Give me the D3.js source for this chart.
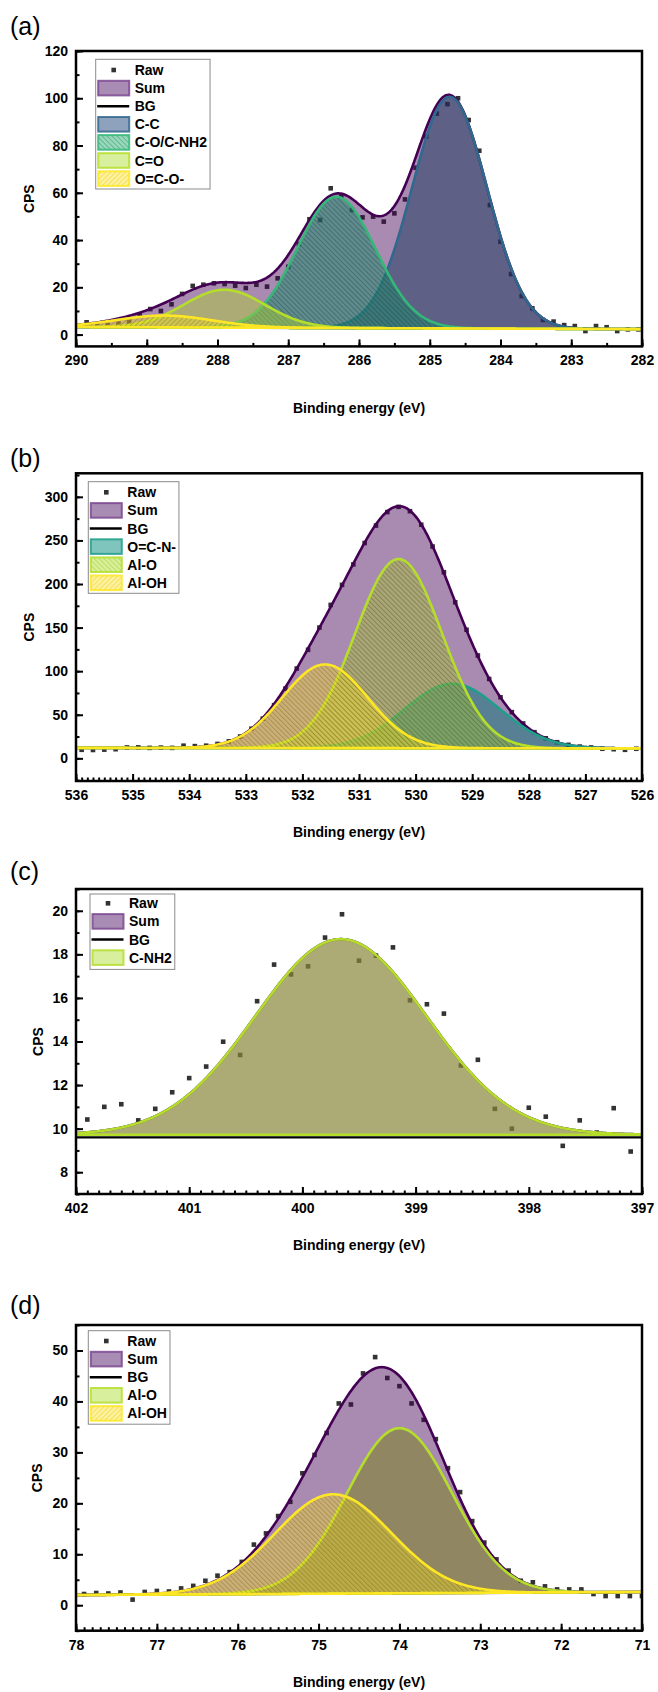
<!DOCTYPE html>
<html><head><meta charset="utf-8">
<script src="https://cdn.jsdelivr.net/npm/d3@7"></script>
<style>
body{margin:0;background:#fff;}
svg text{font-family:"Liberation Sans",Arial,Helvetica,sans-serif;}
</style></head><body>
<svg id="chart" width="658" height="1692"></svg>
<script>
// ================= DATA =================
// Panel (a) C 1s
const aRawX = [289.85,289.70,289.55,289.40,289.25,289.10,288.95,288.80,288.65,288.50,288.35,288.20,288.05,287.90,287.75,287.60,287.45,287.30,287.15,287.00,286.85,286.70,286.55,286.40,286.25,286.10,285.95,285.80,285.65,285.50,285.35,285.20,285.05,284.90,284.75,284.60,284.45,284.30,284.15,284.00,283.85,283.70,283.55,283.40,283.25,283.10,282.95,282.80,282.65,282.50,282.35,282.20,282.05];
const aRawY = [5.2,3.8,4.0,4.6,5.5,8.5,10.8,10.0,12.8,17.2,20.6,21.1,21.7,21.4,20.7,19.7,21.1,20.3,23.8,28.7,38.3,48.8,48.5,61.9,58.5,52.7,49.6,49.9,47.8,51.3,57.2,70.6,83.8,93.5,97.5,100.0,90.8,77.8,54.8,39.3,25.6,16.3,11.1,6.2,5.5,4.0,3.6,1.5,3.6,3.1,1.5,2.2,2.2];
const aPeakNames = ["C-C","C-O/C-NH2","C=O","O=C-O-"];
const aPeakCenters = [284.72,286.32,287.90,288.75];
const aPeakHeights = [98,55.5,16,5];
const aPeakFWHM = [1.25,1.30,1.35,1.60];
const aBackground = [3.2,2.3];
const aXTicks = [290,289,288,287,286,285,284,283,282];
const aYTicks = [0,20,40,60,80,100,120];

// Panel (b) O 1s
const bRawX = [535.9,535.7,535.5,535.3,535.1,534.9,534.7,534.5,534.3,534.1,533.9,533.7,533.5,533.3,533.1,532.9,532.7,532.5,532.3,532.1,531.9,531.7,531.5,531.3,531.1,530.9,530.7,530.5,530.3,530.1,529.9,529.7,529.5,529.3,529.1,528.9,528.7,528.5,528.3,528.1,527.9,527.7,527.5,527.3,527.1,526.9,526.7,526.5,526.3,526.1];
const bRawY = [9.8,9.6,10.0,10.5,12.5,12.6,12.0,12.3,12.0,14.5,14.0,14.5,16.5,19.5,25.0,34.0,45.5,61.0,80.0,103.0,124.5,150.0,176.0,199.0,222.5,247.0,267.0,282.5,288.5,283.5,268.0,243.0,213.5,179.0,147.5,118.0,91.0,70.0,53.0,40.0,30.0,23.0,18.5,15.5,13.5,12.5,11.0,10.5,9.8,11.0];
const bPeakNames = ["O=C-N-","Al-O","Al-OH"];
const bPeakCenters = [529.35,530.30,531.60];
const bPeakHeights = [74,217,96];
const bPeakFWHM = [1.98,1.81,1.77];
const bBackground = [12.0,11.4];
const bXTicks = [536,535,534,533,532,531,530,529,528,527,526];
const bYTicks = [0,50,100,150,200,250,300];

// Panel (c) N 1s
const cRawX = [401.90,401.75,401.60,401.45,401.30,401.15,401.00,400.85,400.70,400.55,400.40,400.25,400.10,399.95,399.80,399.65,399.50,399.35,399.20,399.05,398.90,398.75,398.60,398.45,398.30,398.15,398.00,397.85,397.70,397.55,397.40,397.25,397.10];
const cRawY = [10.42,11.00,11.12,10.38,10.91,11.67,12.32,12.85,13.99,13.38,15.85,17.53,17.08,17.45,18.77,19.84,17.71,17.94,18.32,15.89,15.71,15.28,12.90,13.16,10.91,10.00,10.96,10.55,9.21,10.38,9.82,10.94,8.95];
const cPeakNames = ["C-NH2"];
const cPeakCenters = [399.66];
const cPeakHeights = [8.98];
const cPeakFWHM = [1.78];
const cBackground = [9.72,9.72];
const cBGLine = [9.60,9.60];
const cXTicks = [402,401,400,399,398,397];
const cYTicks = [8,10,12,14,16,18,20];

// Panel (d) Al 2p
const dRawX = [77.90,77.75,77.60,77.45,77.30,77.15,77.00,76.85,76.70,76.55,76.40,76.25,76.10,75.95,75.80,75.65,75.50,75.35,75.20,75.05,74.90,74.75,74.60,74.45,74.30,74.15,74.00,73.85,73.70,73.55,73.40,73.25,73.10,72.95,72.80,72.65,72.50,72.35,72.20,72.05,71.90,71.75,71.60,71.45,71.30,71.15,71.00];
const dRawY = [2.2,2.4,2.3,2.5,1.1,2.6,2.8,2.7,3.3,3.8,4.8,5.8,6.5,8.5,11.9,14.1,17.5,20.3,25.9,29.5,33.8,39.6,39.4,45.5,48.7,44.6,43.0,39.6,36.4,32.6,26.9,22.2,16.5,12.3,9.0,6.8,4.8,4.5,3.7,3.1,3.1,3.1,2.2,1.8,1.8,1.8,1.8];
const dPeakNames = ["Al-O","Al-OH"];
const dPeakCenters = [74.00,74.82];
const dPeakHeights = [32.4,19.5];
const dPeakFWHM = [1.53,1.70];
const dBackground = [2.0,2.6];
const dXTicks = [78,77,76,75,74,73,72,71];
const dYTicks = [0,10,20,30,40,50];

// ================= STYLES =================
const SUM_LINE = "#440154", SUM_FILL = "rgba(68,1,84,0.46)";
const compStyle = {
  "C-C":       {line:"#31688e", fill:"rgba(28,60,95,0.53)",  sw:"#8ea2bd"},
  "C-O/C-NH2": {line:"#35b779", fill:"url(#hB_green)",       sw:"url(#hB_greenL)"},
  "C=O":       {line:"#b5de2b", fill:"rgba(175,210,45,0.45)", sw:"#d8ef9e"},
  "O=C-O-":    {line:"#fde725", fill:"url(#hF_yellow)",      sw:"url(#hF_yellowL)"},
  "O=C-N-":    {line:"#1f9e89", fill:"rgba(20,120,125,0.55)", sw:"#7fc5bd"},
  "Al-O_b":    {line:"#b5de2b", fill:"url(#hB_lime)",        sw:"url(#hB_limeL)"},
  "Al-OH_b":   {line:"#fde725", fill:"url(#hB_yellow)",      sw:"url(#hF_yellowL)"},
  "C-NH2":     {line:"#b5de2b", fill:"rgba(175,210,45,0.45)", sw:"#d8ef9e"},
  "Al-O_d":    {line:"#b5de2b", fill:"rgba(120,130,20,0.50)", sw:"#d8ef9e"},
  "Al-OH_d":   {line:"#fde725", fill:"url(#hB_yellow)",      sw:"url(#hF_yellowL)"}
};

const panels = [
  {label:"(a)", rawX:aRawX, rawY:aRawY, names:aPeakNames, styleKeys:["C-C","C-O/C-NH2","C=O","O=C-O-"],
   centers:aPeakCenters, heights:aPeakHeights, fwhm:aPeakFWHM, bg:aBackground, bgLine:aBackground,
   xDomain:[290,282], yDomain:[-5,120], xTicks:aXTicks, yTicks:aYTicks, xMinor:0.5, yMinor:10,
   top:51, bottom:346.4, cpsX:29, titleY:413, labelY:35, legend:{x:95.7,y:59.3,r0:70}},
  {label:"(b)", rawX:bRawX, rawY:bRawY, names:bPeakNames, styleKeys:["O=C-N-","Al-O_b","Al-OH_b"],
   centers:bPeakCenters, heights:bPeakHeights, fwhm:bPeakFWHM, bg:bBackground, bgLine:bBackground,
   xDomain:[536,526], yDomain:[-26,327], xTicks:bXTicks, yTicks:bYTicks, xMinor:0.1, yMinor:25,
   top:473.3, bottom:781, cpsX:29, titleY:837, labelY:467, legend:{x:88.3,y:481.7,r0:492.3}},
  {label:"(c)", rawX:cRawX, rawY:cRawY, names:cPeakNames, styleKeys:["C-NH2"],
   centers:cPeakCenters, heights:cPeakHeights, fwhm:cPeakFWHM, bg:cBackground, bgLine:cBGLine,
   xDomain:[402,397], yDomain:[7,21], xTicks:cXTicks, yTicks:cYTicks, xMinor:0.1, yMinor:1,
   top:889, bottom:1194, cpsX:37.5, titleY:1250, labelY:880, legend:{x:90,y:894,r0:903.3}},
  {label:"(d)", rawX:dRawX, rawY:dRawY, names:dPeakNames, styleKeys:["Al-O_d","Al-OH_d"],
   centers:dPeakCenters, heights:dPeakHeights, fwhm:dPeakFWHM, bg:dBackground, bgLine:dBackground,
   xDomain:[78,71], yDomain:[-5,55], xTicks:dXTicks, yTicks:dYTicks, xMinor:0.1, yMinor:5,
   top:1325, bottom:1630.7, cpsX:36.7, titleY:1687, labelY:1314, legend:{x:88.3,y:1330.7,r0:1341}}
];

// ================= DRAW =================
const svg = d3.select("#chart");
const defs = svg.append("defs");
function hatch(id, bg, lineColor, angle){
  const p = defs.append("pattern").attr("id",id).attr("patternUnits","userSpaceOnUse")
    .attr("width",3.5).attr("height",3.5).attr("patternTransform",`rotate(${angle})`);
  p.append("rect").attr("width",3.5).attr("height",3.5).attr("fill",bg);
  p.append("line").attr("x1",0.5).attr("y1",0).attr("x2",0.5).attr("y2",3.5)
    .attr("stroke",lineColor).attr("stroke-width",1);
}
hatch("hB_green","rgba(30,140,110,0.52)","rgba(10,60,50,0.35)",-45);
hatch("hB_greenL","#9bd8bb","rgba(40,150,110,0.5)",-45);
hatch("hF_yellow","rgba(253,231,37,0.42)","rgba(120,100,0,0.35)",45);
hatch("hF_yellowL","#fdf2a2","rgba(240,210,30,0.6)",45);
hatch("hB_lime","rgba(175,205,45,0.42)","rgba(60,70,0,0.35)",-45);
hatch("hB_limeL","#d8ef9e","rgba(170,210,40,0.6)",-45);
hatch("hB_yellow","rgba(253,231,37,0.40)","rgba(110,90,0,0.35)",-45);

const LEFT = 76, RIGHT = 642;
function gauss(xv, c, h, fwhm){ const s = fwhm/2.35482; return h*Math.exp(-(xv-c)*(xv-c)/(2*s*s)); }

panels.forEach((P, pi) => {
  const x = d3.scaleLinear().domain(P.xDomain).range([LEFT, RIGHT]);
  const y = d3.scaleLinear().domain(P.yDomain).range([P.bottom, P.top]);
  const g = svg.append("g");
  const clipId = "clip"+pi;
  defs.append("clipPath").attr("id",clipId).append("rect")
    .attr("x",LEFT).attr("y",P.top).attr("width",RIGHT-LEFT).attr("height",P.bottom-P.top);
  const plot = g.append("g").attr("clip-path",`url(#${clipId})`);

  const N = 500;
  const xs = d3.range(N+1).map(i => P.xDomain[0] + (P.xDomain[1]-P.xDomain[0])*i/N);
  const lin = (arr, xv) => arr[0] + (arr[1]-arr[0])*(xv-P.xDomain[0])/(P.xDomain[1]-P.xDomain[0]);
  const comps = P.names.map((n,k) => xs.map(xv => ({x:xv, b:lin(P.bg,xv), v:gauss(xv,P.centers[k],P.heights[k],P.fwhm[k])})));
  const sum = xs.map((xv,i) => ({x:xv, b:lin(P.bg,xv), v:d3.sum(comps, c => c[i].v)}));

  const area = d3.area().x(d=>x(d.x)).y0(d=>y(d.b)).y1(d=>y(d.b+d.v));
  const top = d3.line().x(d=>x(d.x)).y(d=>y(d.b+d.v));

  // raw points (under fills)
  plot.selectAll("rect.raw").data(P.rawX.map((xv,i)=>({x:xv,y:P.rawY[i]}))).join("rect")
    .attr("class","raw").attr("x",d=>x(d.x)-2.3).attr("y",d=>y(d.y)-2.3)
    .attr("width",4.6).attr("height",4.6).attr("fill","#333");

  // sum
  plot.append("path").datum(sum).attr("d",area).attr("fill",SUM_FILL);
  plot.append("path").datum(sum).attr("d",top).attr("fill","none").attr("stroke",SUM_LINE).attr("stroke-width",2.6);
  // background line
  plot.append("line").attr("x1",LEFT).attr("x2",RIGHT)
    .attr("y1",y(P.bgLine[0])).attr("y2",y(P.bgLine[1])).attr("stroke","#000").attr("stroke-width",2.4);
  // components
  comps.forEach((c,k) => {
    const st = compStyle[P.styleKeys[k]];
    plot.append("path").datum(c).attr("d",area).attr("fill",st.fill)
      .attr("stroke",st.line).attr("stroke-width",2.6).attr("stroke-linejoin","round");
  });

  // frame
  g.append("rect").attr("x",LEFT).attr("y",P.top).attr("width",RIGHT-LEFT).attr("height",P.bottom-P.top)
    .attr("fill","none").attr("stroke","#000").attr("stroke-width",2.5);

  // axes
  const xMinorVals = d3.range(Math.round(Math.abs(P.xDomain[0]-P.xDomain[1])/P.xMinor)+1)
    .map(i => +(Math.min(...P.xDomain) + i*P.xMinor).toFixed(3));
  const yMinorVals = d3.range(Math.floor((P.yDomain[1]-P.yDomain[0])/P.yMinor)+2)
    .map(i => Math.ceil(P.yDomain[0]/P.yMinor)*P.yMinor + i*P.yMinor).filter(v => v>=P.yDomain[0] && v<=P.yDomain[1]);
  const xMin = g.append("g").attr("transform",`translate(0,${P.bottom})`)
    .call(d3.axisBottom(x).tickValues(xMinorVals).tickSize(-3.5).tickFormat(""));
  const yMin = g.append("g").attr("transform",`translate(${LEFT},0)`)
    .call(d3.axisLeft(y).tickValues(yMinorVals).tickSize(-3.5).tickFormat(""));
  const xAx = g.append("g").attr("transform",`translate(0,${P.bottom})`)
    .call(d3.axisBottom(x).tickValues(P.xTicks).tickSize(-7).tickPadding(9).tickFormat(d3.format("d")));
  const yAx = g.append("g").attr("transform",`translate(${LEFT},0)`)
    .call(d3.axisLeft(y).tickValues(P.yTicks).tickSize(-7).tickPadding(8).tickFormat(d3.format("d")));
  [xMin,yMin,xAx,yAx].forEach(a => {
    a.select(".domain").remove();
    a.selectAll(".tick line").attr("stroke","#000").attr("stroke-width",2);
    a.selectAll(".tick text").attr("font-size",14).attr("font-weight","bold")
      .attr("font-family","'Liberation Sans',Arial,sans-serif").attr("fill","#000");
  });

  // axis titles
  g.append("text").attr("x",(LEFT+RIGHT)/2).attr("y",P.titleY).attr("text-anchor","middle")
    .attr("font-size",14).attr("font-weight","bold").text("Binding energy (eV)");
  const midY = (P.top+P.bottom)/2;
  g.append("text").attr("transform",`translate(${P.cpsX},${midY}) rotate(-90)`)
    .attr("text-anchor","middle").attr("dy","0.36em").attr("font-size",14).attr("font-weight","bold").text("CPS");
  // panel label
  g.append("text").attr("x",10).attr("y",P.labelY).attr("font-size",25).text(P.label);

  // legend
  const L = P.legend, rowH = 18.1;
  const items = [{t:"Raw",k:"raw"},{t:"Sum",k:"sum"},{t:"BG",k:"bg"}]
    .concat(P.names.map((n,k)=>({t:n,k:"comp",s:compStyle[P.styleKeys[k]]})));
  const lg = g.append("g");
  const box = lg.append("rect").attr("x",L.x).attr("y",L.y).attr("height",items.length*rowH+3)
    .attr("fill","#fff").attr("stroke","#8a8a8a").attr("stroke-width",1);
  let maxW = 0;
  items.forEach((it,i) => {
    const cy = L.r0 + i*rowH, sx = L.x+2.5, sw = 31;
    if(it.k==="raw"){
      lg.append("rect").attr("x",sx+sw/2-2.3).attr("y",cy-2.3).attr("width",4.6).attr("height",4.6).attr("fill","#333");
    } else if(it.k==="bg"){
      lg.append("line").attr("x1",sx-1).attr("x2",sx+sw).attr("y1",cy).attr("y2",cy).attr("stroke","#000").attr("stroke-width",2.4);
    } else {
      const fill = it.k==="sum" ? "#a88cb3" : it.s.sw;
      const stroke = it.k==="sum" ? "#7d4791" : it.s.line;
      lg.append("rect").attr("x",sx).attr("y",cy-7.3).attr("width",sw).attr("height",14.6)
        .attr("fill",fill).attr("stroke",stroke).attr("stroke-width",2).attr("stroke-opacity",0.85);
    }
    const t = lg.append("text").attr("x",L.x+39).attr("y",cy+5).attr("font-size",14).attr("font-weight","bold").text(it.t);
    maxW = Math.max(maxW, t.node().getComputedTextLength());
  });
  box.attr("width", 39 + maxW + 3);
});
</script>
</body></html>
